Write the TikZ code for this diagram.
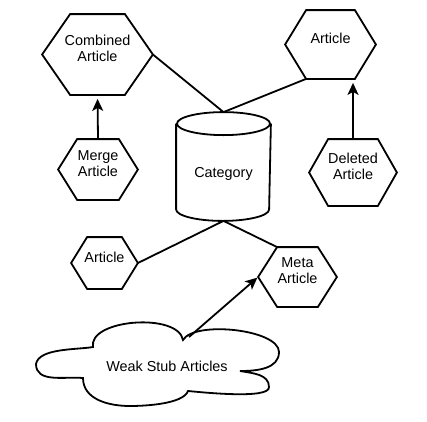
\documentclass[tikz,border=0pt]{standalone}
\usepackage{fontspec}
\setmainfont{Liberation Sans}
\usetikzlibrary{arrows.meta}

\begin{document}
\begin{tikzpicture}[
		x=1pt, y=1pt,
		line width=1.8pt,
		every node/.style={font=\fontsize{14.4}{16}\selectfont},
		hexa/.style={inner sep=0pt, align=center, text depth=12pt},
		arrow/.style={-{Stealth[length=12pt, width=11pt, inset=3pt]}},
	]
		\useasboundingbox (0,0) rectangle (427,-421);

		\node[hexa, minimum width=109pt, minimum height=79pt] (combined) at (97.5,-54.5) {Combined\\Article};
		\node[hexa, minimum width=78pt, minimum height=59pt] (merge) at (98,-169.5) {Merge\\Article};
		\node[hexa, minimum width=89pt, minimum height=67pt] (topart) at (330.5,-44.5) {Article};
		\node[hexa, minimum width=86pt, minimum height=65pt] (deleted) at (353,-172.5) {Deleted\\Article};
		\node[hexa, minimum width=65pt, minimum height=50pt] (leftart) at (104.5,-263) {Article};
		\node[hexa, minimum width=77pt, minimum height=58pt] (meta) at (297.5,-277) {Meta\\Article};

		\foreach \n/\s in {combined/28, merge/19, topart/21, deleted/19, leftart/16, meta/19}
			\draw (\n.west) -- ([xshift=\s]\n.north west) -- ([xshift=-\s]\n.north east) -- (\n.east)
				-- ([xshift=-\s]\n.south east) -- ([xshift=\s]\n.south west) -- cycle;

		\node[inner sep=0pt, minimum width=93pt, minimum height=107pt, text height=25pt, text depth=4pt] (category) at (223.5,-166.5) {Category};
		\draw ([yshift=-11.5]category.north west) -- ([yshift=11.5]category.south west)
			arc[start angle=180, end angle=360, x radius=46.5, y radius=11.5] -- ([yshift=-11.5]category.north east);
		\draw ([yshift=-11.5]category.north) ellipse [x radius=46.5, y radius=11.5];

		\node (weak) at (167,-366) {Weak Stub Articles};
		\draw (93,-347) to[out=100, in=100, looseness=0.8] (183,-340)
			to[out=60, in=90, looseness=0.6] (279,-352)
			to[out=-90, in=0] (240,-371)
			to[out=-10, in=90] (269,-387)
			to[out=-85, in=-5, looseness=0.4] (188,-391)
			to[out=-110, in=0, looseness=0.6] (130,-406)
			to[out=180, in=-90] (83,-378)
			to[out=175, in=-90] (36,-364)
			to[out=80, in=190, looseness=0.7] (93,-347) -- cycle;
		\coordinate (stub) at (189,-337);

		\draw[arrow, shorten >=4pt] (merge.north) -- (combined.south);
		\draw[arrow, shorten >=4pt] (deleted.north) -- (deleted.north |- topart.south);
		\draw[arrow, shorten >=1pt] (stub) -- (meta.west);

		\draw (combined.east) -- (category.north);
		\draw ([xshift=21pt]topart.south west) -- (category.north);
		\draw (leftart.east) -- (category.south);
		\draw (category.south) -- ([xshift=19pt]meta.north west);
	\end{tikzpicture}
\end{document}
